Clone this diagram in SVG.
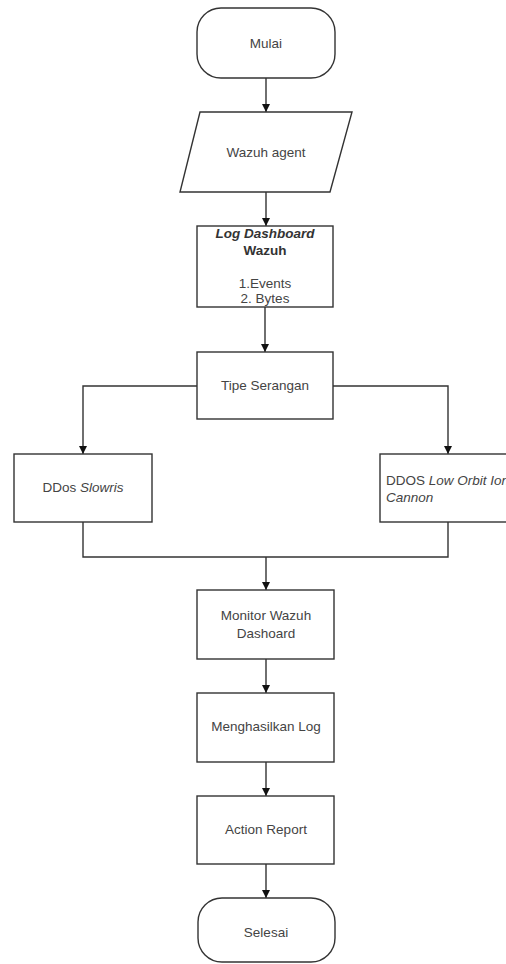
<svg xmlns="http://www.w3.org/2000/svg" width="506" height="964" viewBox="0 0 506 964">
<defs>
<marker id="ah" viewBox="0 0 10 10" refX="10" refY="5" markerWidth="8" markerHeight="8" markerUnits="userSpaceOnUse" orient="auto">
<path d="M0,0 L10,5 L0,10 Z" fill="#111"/>
</marker>
<style>
.s{fill:#fff;stroke:#333;stroke-width:1.4}
.t{font-family:"Liberation Sans",Arial,sans-serif;font-size:13.5px;fill:#444;text-anchor:middle}
.c{fill:none;stroke:#333;stroke-width:1.4}
</style>
</defs>
<rect width="506" height="964" fill="#fff"/>
<g id="connectors">
<path class="c" d="M266,78 V112" marker-end="url(#ah)"/>
<path class="c" d="M266,192 V226" marker-end="url(#ah)"/>
<path class="c" d="M265,307 V352" marker-end="url(#ah)"/>
<path class="c" d="M197,386 H83 V454" marker-end="url(#ah)"/>
<path class="c" d="M333,386 H448 V454" marker-end="url(#ah)"/>
<path class="c" d="M83,522 V557 H448 V522"/>
<path class="c" d="M266,557 V590" marker-end="url(#ah)"/>
<path class="c" d="M266,659 V693" marker-end="url(#ah)"/>
<path class="c" d="M266,762 V796" marker-end="url(#ah)"/>
<path class="c" d="M266,864 V898" marker-end="url(#ah)"/>
</g>
<g id="mulai">
<rect class="s" x="197" y="8" width="138" height="70" rx="24"/>
<text class="t" x="266" y="48">Mulai</text>
</g>
<g id="wazuh-agent">
<polygon class="s" points="200,112 352,112 330,192 180,192"/>
<text class="t" x="266" y="157">Wazuh agent</text>
</g>
<g id="log-dashboard">
<rect class="s" x="197" y="226" width="136" height="81"/>
<text class="t" x="265" y="238" style="font-weight:bold;font-style:italic;fill:#333">Log Dashboard</text>
<text class="t" x="265" y="255" style="font-weight:bold;fill:#333">Wazuh</text>
<text class="t" x="265" y="288">1.Events</text>
<text class="t" x="265" y="303">2. Bytes</text>
</g>
<g id="tipe-serangan">
<rect class="s" x="197" y="352" width="136" height="67"/>
<text class="t" x="265" y="390">Tipe Serangan</text>
</g>
<g id="ddos-slowris">
<rect class="s" x="14" y="454" width="138" height="68"/>
<text class="t" x="83" y="492">DDos <tspan font-style="italic">Slowris</tspan></text>
</g>
<g id="ddos-loic">
<rect class="s" x="380" y="454" width="140" height="68"/>
<text class="t" x="386" y="485" style="text-anchor:start">DDOS <tspan font-style="italic">Low Orbit Ion</tspan></text>
<text class="t" x="386" y="502" style="text-anchor:start;font-style:italic">Cannon</text>
</g>
<g id="monitor">
<rect class="s" x="197" y="590" width="137" height="69"/>
<text class="t" x="266" y="620">Monitor Wazuh</text>
<text class="t" x="266" y="638">Dashoard</text>
</g>
<g id="menghasilkan">
<rect class="s" x="197" y="693" width="137" height="69"/>
<text class="t" x="266" y="731">Menghasilkan Log</text>
</g>
<g id="action-report">
<rect class="s" x="197" y="796" width="137" height="68"/>
<text class="t" x="266" y="834">Action Report</text>
</g>
<g id="selesai">
<rect class="s" x="198" y="898" width="137" height="64" rx="24"/>
<text class="t" x="266" y="937">Selesai</text>
</g>
</svg>
